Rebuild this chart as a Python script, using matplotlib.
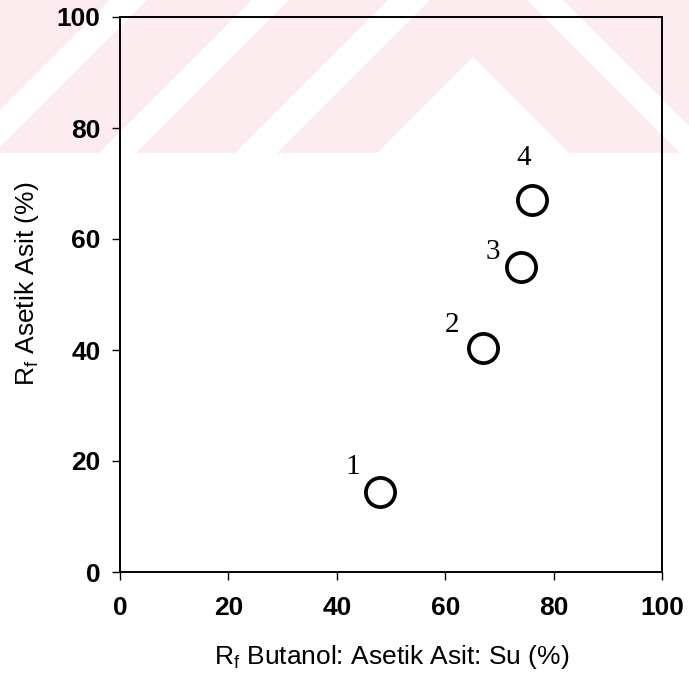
import matplotlib
matplotlib.use('Agg')
import matplotlib.pyplot as plt
from matplotlib.patches import Polygon, Rectangle

# ---- data ----
x_vals = [48, 67, 74, 76]
y_vals = [14.4, 40.4, 55.0, 67.0]
point_labels = ['1', '2', '3', '4']
label_x = [42.9, 61.3, 68.7, 74.4]
label_y = [18.9, 44.5, 57.7, 74.6]
xticks = [0, 20, 40, 60, 80, 100]
yticks = [0, 20, 40, 60, 80, 100]
xlabel = r'R$_\mathregular{f}$ Butanol: Asetik Asit: Su (%)'
ylabel = r'R$_\mathregular{f}$ Asetik Asit (%)'

plt.rcParams['font.family'] = ['Liberation Sans', 'DejaVu Sans']

W, H = 689, 675
fig = plt.figure(figsize=(W / 100, H / 100), dpi=100)

# ---- background watermark (light pink band with white stripes) ----
pink = '#fdecef'
band = 153


def fp(pts):
    return [(x / W, 1 - y / H) for x, y in pts]


fig.add_artist(Rectangle((0, 1 - band / H), 1, band / H, transform=fig.transFigure,
                         facecolor=pink, edgecolor='none', zorder=-10))
for c0, c1 in [(110, 147), (252, 289), (388, 430)]:
    pts = [(c0, 0), (c1, 0), (c1 - band, band), (c0 - band, band)]
    fig.add_artist(Polygon(fp(pts), closed=True, transform=fig.transFigure,
                           facecolor='white', edgecolor='none', zorder=-9))
fig.add_artist(Polygon(fp([(377, band), (473, 57), (569, band)]), closed=True,
                       transform=fig.transFigure, facecolor='white', edgecolor='none', zorder=-9))
fig.add_artist(Polygon(fp([(527, 0), (563, 0), (563 + band, band), (527 + band, band)]), closed=True,
                       transform=fig.transFigure, facecolor='white', edgecolor='none', zorder=-9))

# ---- axes ----
ax = fig.add_axes([120 / W, 1 - 572 / H, 542 / W, 555 / H])
ax.set_facecolor('none')
ax.set_xlim(0, 100)
ax.set_ylim(0, 100)

ax.plot(x_vals, y_vals, 'o', ms=21, mfc='none', mec='black', mew=2.7, clip_on=False)
for lx, ly, lab in zip(label_x, label_y, point_labels):
    ax.text(lx, ly, lab, fontfamily='Liberation Serif', fontsize=21,
            ha='center', va='center')

ax.set_xticks(xticks)
ax.set_xticklabels([str(t) for t in xticks], fontweight='bold', fontsize=19)
ax.set_yticks(yticks)
ax.set_yticklabels([str(t) for t in yticks], fontweight='bold', fontsize=19)
ax.tick_params(axis='x', direction='out', length=6, width=1, pad=11)
ax.tick_params(axis='y', direction='out', length=6, width=1, pad=8)
for s in ax.spines.values():
    s.set_linewidth(1.4)

fig.text(392 / W, 1 - 664 / H, xlabel, fontsize=19, ha='center', va='baseline')
fig.text(34 / W, 1 - 284 / H, ylabel, fontsize=19, ha='center', va='baseline',
         rotation=90, rotation_mode='anchor')

fig.savefig('out.png', dpi=100)
